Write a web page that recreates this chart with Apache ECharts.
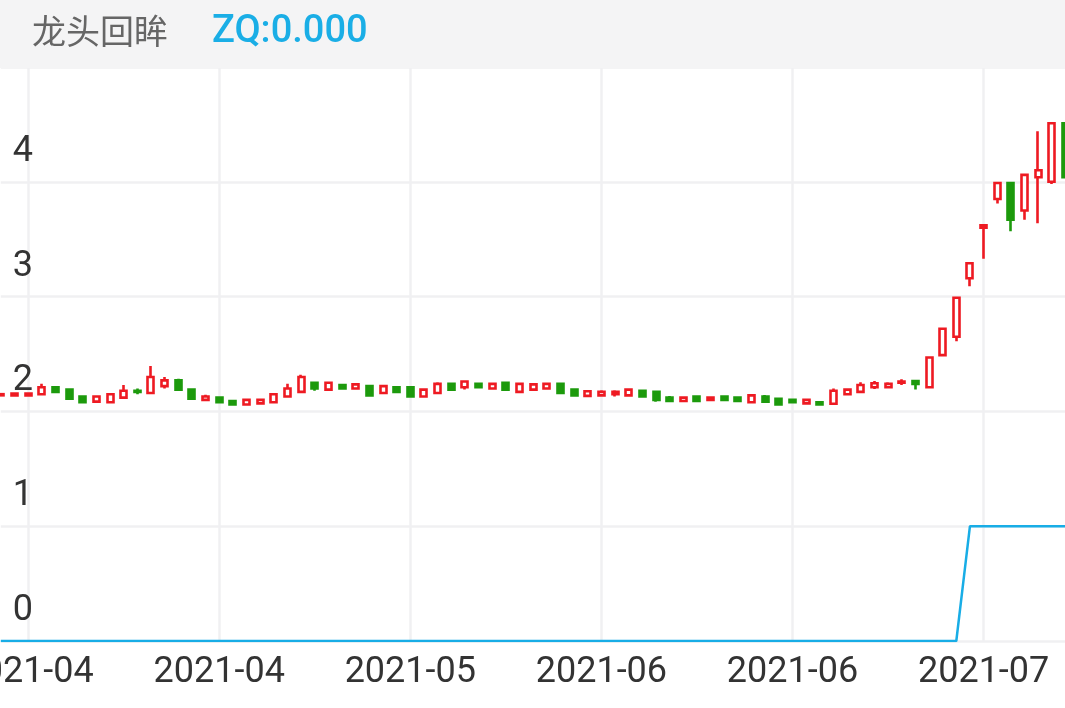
<!DOCTYPE html>
<html>
<head>
<meta charset="utf-8">
<script src="https://cdn.jsdelivr.net/npm/echarts@6/dist/echarts.min.js"></script>
<style>
html,body{margin:0;padding:0;background:#fff;}
#chart{width:1065px;height:708px;}
</style>
</head>
<body>
<div id="chart"></div>
<script>
const dates = ["2021-03-30","2021-03-31","2021-04-01","2021-04-02","2021-04-06","2021-04-07","2021-04-08","2021-04-09","2021-04-12","2021-04-13","2021-04-14","2021-04-15","2021-04-16","2021-04-19","2021-04-20","2021-04-21","2021-04-22","2021-04-23","2021-04-26","2021-04-27","2021-04-28","2021-04-29","2021-04-30","2021-05-06","2021-05-07","2021-05-10","2021-05-11","2021-05-12","2021-05-13","2021-05-14","2021-05-17","2021-05-18","2021-05-19","2021-05-20","2021-05-21","2021-05-24","2021-05-25","2021-05-26","2021-05-27","2021-05-28","2021-05-31","2021-06-01","2021-06-02","2021-06-03","2021-06-04","2021-06-07","2021-06-08","2021-06-09","2021-06-10","2021-06-11","2021-06-15","2021-06-16","2021-06-17","2021-06-18","2021-06-21","2021-06-22","2021-06-23","2021-06-24","2021-06-25","2021-06-28","2021-06-29","2021-06-30","2021-07-01","2021-07-02","2021-07-05","2021-07-06","2021-07-07","2021-07-08","2021-07-09","2021-07-12","2021-07-13","2021-07-14","2021-07-15","2021-07-16","2021-07-19","2021-07-20","2021-07-21","2021-07-22","2021-07-23"];

const opens  = [2.14,2.14,2.14,2.15,2.21,2.19,2.13,2.085,2.08,2.12,2.18,2.16,2.22,2.27,2.19,2.10,2.12,2.09,2.06,2.07,2.08,2.13,2.17,2.25,2.19,2.23,2.20,2.22,2.16,2.21,2.21,2.13,2.16,2.24,2.21,2.24,2.20,2.25,2.17,2.19,2.20,2.24,2.19,2.135,2.14,2.15,2.14,2.18,2.17,2.12,2.09,2.13,2.10,2.13,2.12,2.08,2.13,2.11,2.10,2.07,2.08,2.067,2.15,2.17,2.21,2.21,2.25,2.265,2.21,2.49,2.65,3.16,3.60,3.85,3.99,3.75,4.04,4.00,4.51];
const closes = [2.15,2.155,2.155,2.21,2.17,2.11,2.08,2.13,2.15,2.18,2.17,2.30,2.27,2.19,2.11,2.13,2.08,2.06,2.10,2.10,2.15,2.20,2.30,2.20,2.25,2.20,2.235,2.14,2.22,2.17,2.13,2.19,2.24,2.19,2.26,2.21,2.24,2.19,2.24,2.235,2.24,2.16,2.14,2.175,2.17,2.17,2.19,2.13,2.10,2.09,2.12,2.09,2.12,2.10,2.09,2.14,2.085,2.06,2.08,2.10,2.06,2.18,2.19,2.23,2.245,2.24,2.26,2.24,2.47,2.72,2.99,3.29,3.62,3.99,3.67,4.06,4.10,4.51,4.04];
const lows   = [2.14,2.13,2.14,2.15,2.165,2.105,2.075,2.085,2.075,2.12,2.15,2.16,2.20,2.19,2.105,2.09,2.075,2.055,2.06,2.07,2.075,2.13,2.17,2.18,2.19,2.19,2.195,2.14,2.16,2.165,2.13,2.13,2.155,2.18,2.19,2.205,2.195,2.185,2.17,2.185,2.195,2.16,2.135,2.134,2.135,2.13,2.13,2.13,2.085,2.08,2.08,2.085,2.095,2.095,2.085,2.073,2.085,2.056,2.07,2.06,2.056,2.067,2.146,2.166,2.195,2.21,2.23,2.19,2.21,2.485,2.61,3.09,3.33,3.81,3.57,3.67,3.64,3.98,4.04];
const highs  = [2.15,2.155,2.16,2.24,2.215,2.19,2.135,2.135,2.155,2.23,2.20,2.395,2.30,2.285,2.195,2.145,2.125,2.10,2.11,2.10,2.155,2.24,2.32,2.255,2.255,2.24,2.24,2.222,2.222,2.222,2.212,2.195,2.255,2.247,2.265,2.24,2.25,2.255,2.24,2.236,2.247,2.24,2.195,2.175,2.185,2.185,2.195,2.186,2.17,2.134,2.125,2.134,2.125,2.134,2.125,2.143,2.143,2.117,2.105,2.105,2.09,2.20,2.195,2.253,2.265,2.255,2.28,2.265,2.475,2.724,2.994,3.29,3.625,3.99,4.00,4.06,4.44,4.51,4.515];
const zq = [0,0,0,0,0,0,0,0,0,0,0,0,0,0,0,0,0,0,0,0,0,0,0,0,0,0,0,0,0,0,0,0,0,0,0,0,0,0,0,0,0,0,0,0,0,0,0,0,0,0,0,0,0,0,0,0,0,0,0,0,0,0,0,0,0,0,0,0,0,0,0,1,1,1,1,1,1,1,1];
const yTicks = [0,1,2,3,4,5];
const titleText = "龙头回眸";
const zqText = "ZQ:0.000";

const upColor = '#ee1a22';
const downColor = '#1c9a0c';
const lineColor = '#18ade6';
const gridColor = '#f0f0f2';

const kData = opens.map((o, i) => [o, closes[i], lows[i], highs[i]]);
const labelEvery = (i) => (i - 2) % 14 === 0;

const chart = echarts.init(document.getElementById('chart'), null, {renderer: 'canvas'});
chart.setOption({
  animation: false,
  backgroundColor: '#ffffff',
  grid: {left: 0.8, right: -0.5, top: 67, bottom: 67, containLabel: false, outerBoundsMode: 'none'},
  xAxis: {
    type: 'category',
    data: dates,
    boundaryGap: false,
    axisLine: {show: false},
    axisTick: {show: false},
    axisLabel: {
      interval: labelEvery,
      formatter: (v) => v.slice(0, 7),
      fontSize: 36,
      color: '#333333',
      fontFamily: 'Roboto',
      margin: 14
    },
    splitLine: {show: true, interval: labelEvery, lineStyle: {color: gridColor, width: 2.5}}
  },
  yAxis: {
    type: 'value',
    min: yTicks[0],
    max: yTicks[yTicks.length - 1],
    interval: 1,
    axisLine: {show: false},
    axisTick: {show: false},
    axisLabel: {
      inside: true,
      fontSize: 36,
      color: '#333333',
      fontFamily: 'Roboto',
      verticalAlign: 'bottom',
      margin: 12,
      padding: [0, 0, 12, 0]
    },
    splitLine: {show: true, lineStyle: {color: gridColor, width: 2.5}}
  },
  series: [
    {
      type: 'candlestick',
      data: kData,
      barWidth: 6.5,
      itemStyle: {
        color: '#ffffff',
        color0: downColor,
        borderColor: upColor,
        borderColor0: downColor,
        borderWidth: 2.6
      }
    },
    {
      type: 'line',
      data: zq,
      symbol: 'none',
      lineStyle: {color: lineColor, width: 2.5},
      z: 5
    }
  ],
  graphic: [
    {type: 'rect', left: 0, top: 0, z: 100, shape: {width: 1065, height: 68}, style: {fill: '#f4f4f5'}},
    {type: 'text', left: 32, top: 14, z: 101, style: {text: titleText, fontSize: 34, fill: '#666666', fontFamily: 'Noto Sans CJK SC'}},
    {type: 'text', left: 212, top: 13, z: 101, style: {text: zqText, fontSize: 38, fontWeight: 500, fill: '#1aaee6', fontFamily: 'Roboto'}}
  ]
});
</script>
</body>
</html>
